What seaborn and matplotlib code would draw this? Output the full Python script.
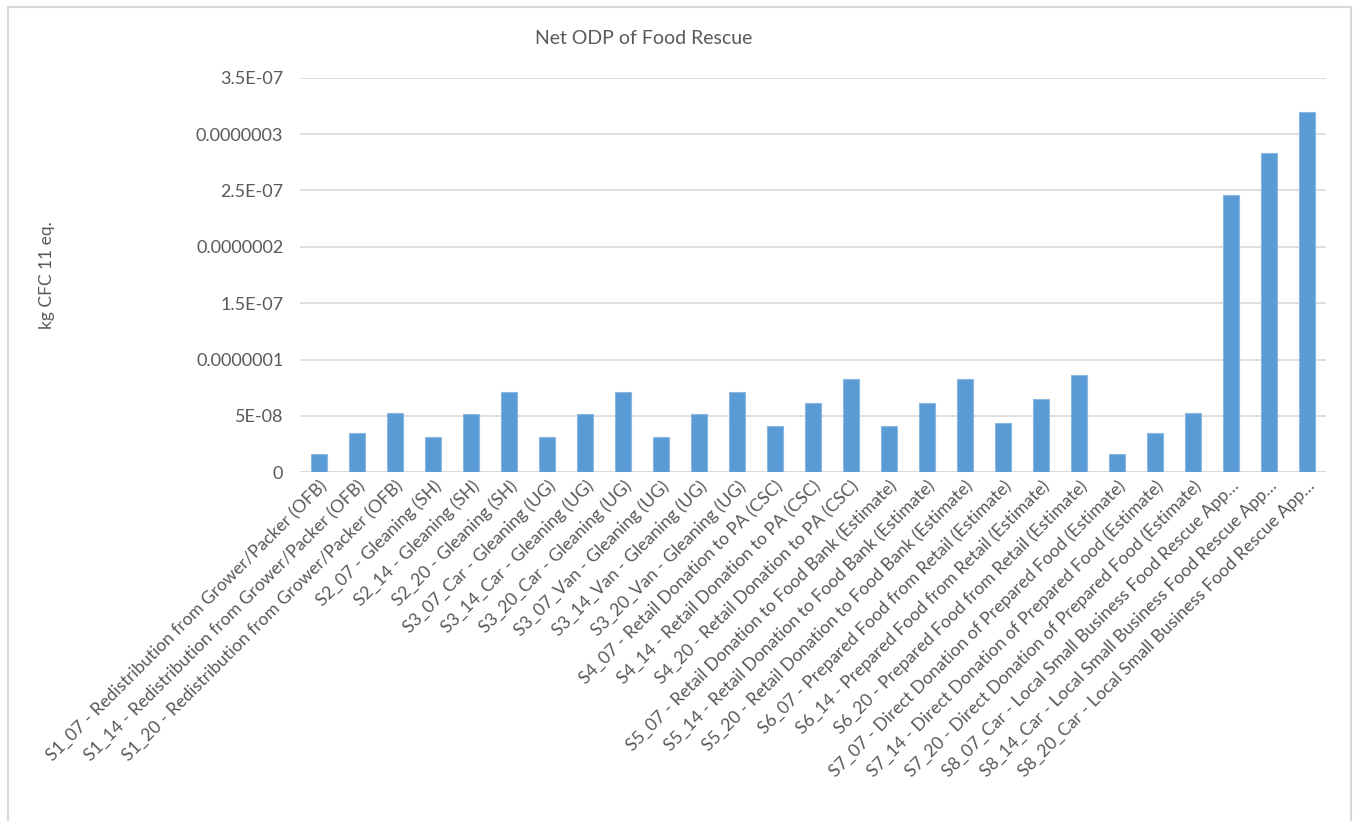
import matplotlib
matplotlib.use("Agg")
import matplotlib.pyplot as plt
from matplotlib.lines import Line2D
from matplotlib.ticker import FixedLocator, FixedFormatter
import seaborn as sns
import pandas as pd

# Food rescue scenarios and their net ozone depletion potential (kg CFC-11 eq.)
scenarios = [
    "S1_07 - Redistribution from Grower/Packer (OFB)",
    "S1_14 - Redistribution from Grower/Packer (OFB)",
    "S1_20 - Redistribution from Grower/Packer (OFB)",
    "S2_07 - Gleaning (SH)",
    "S2_14 - Gleaning (SH)",
    "S2_20 - Gleaning (SH)",
    "S3_07_Car - Gleaning (UG)",
    "S3_14_Car - Gleaning (UG)",
    "S3_20_Car - Gleaning (UG)",
    "S3_07_Van - Gleaning (UG)",
    "S3_14_Van - Gleaning (UG)",
    "S3_20_Van - Gleaning (UG)",
    "S4_07 - Retail Donation to PA (CSC)",
    "S4_14 - Retail Donation to PA (CSC)",
    "S4_20 - Retail Donation to PA (CSC)",
    "S5_07 - Retail Donation to Food Bank (Estimate)",
    "S5_14 - Retail Donation to Food Bank (Estimate)",
    "S5_20 - Retail Donation to Food Bank (Estimate)",
    "S6_07 - Prepared Food from Retail (Estimate)",
    "S6_14 - Prepared Food from Retail (Estimate)",
    "S6_20 - Prepared Food from Retail (Estimate)",
    "S7_07 - Direct Donation of Prepared Food (Estimate)",
    "S7_14 - Direct Donation of Prepared Food (Estimate)",
    "S7_20 - Direct Donation of Prepared Food (Estimate)",
    "S8_07_Car - Local Small Business Food Rescue App\u2026",
    "S8_14_Car - Local Small Business Food Rescue App\u2026",
    "S8_20_Car - Local Small Business Food Rescue App\u2026",
]

net_odp = [
    1.6e-8, 3.46e-8, 5.3e-8,
    3.15e-8, 5.15e-8, 7.15e-8,
    3.15e-8, 5.15e-8, 7.15e-8,
    3.15e-8, 5.15e-8, 7.15e-8,
    4.08e-8, 6.18e-8, 8.26e-8,
    4.08e-8, 6.18e-8, 8.26e-8,
    4.4e-8, 6.48e-8, 8.6e-8,
    1.6e-8, 3.46e-8, 5.3e-8,
    2.456e-7, 2.833e-7, 3.2e-7,
]

y_ticks = [0, 5e-8, 1e-7, 1.5e-7, 2e-7, 2.5e-7, 3e-7, 3.5e-7]
y_tick_labels = ["0", "5E-08", "0.0000001", "1.5E-07", "0.0000002",
                 "2.5E-07", "0.0000003", "3.5E-07"]

title = "Net ODP of Food Rescue"
y_label = "kg CFC 11 eq."

sns.set_theme(style="white")
plt.rcParams["font.family"] = ["Lato", "DejaVu Sans"]

text_grey = "#595959"
grid_grey = "#d9d9d9"
bar_blue = "#5b9bd5"

W, H = 1353, 821
fig = plt.figure(figsize=(W / 100, H / 100), dpi=100)
ax = fig.add_axes([300 / W, 1 - 472.3 / H, 1026 / W, (472.3 - 77.7) / H])

df = pd.DataFrame({"scenario": scenarios, "odp": net_odp})
sns.barplot(data=df, x="scenario", y="odp", color=bar_blue, width=0.4,
            edgecolor="#8ab8e3", linewidth=0.8, saturation=1, ax=ax)

ax.set_ylim(0, 3.5e-7)
ax.set_xlim(-0.5, len(scenarios) - 0.5)
ax.yaxis.set_major_locator(FixedLocator(y_ticks))
ax.yaxis.set_major_formatter(FixedFormatter(y_tick_labels))
ax.grid(axis="y", color=grid_grey, linewidth=1.2)
ax.set_axisbelow(True)
for side in ["top", "right", "left", "bottom"]:
    ax.spines[side].set_visible(False)
ax.axhline(0, color=grid_grey, linewidth=1.2, zorder=0.5)

ax.tick_params(axis="y", length=0, pad=12, labelsize=13, labelcolor=text_grey)
ax.tick_params(axis="x", length=0, pad=4, labelsize=12.7, labelcolor=text_grey)
ax.set_xticks(range(len(scenarios)))
ax.set_xticklabels(scenarios, rotation=45, ha="right", rotation_mode="anchor")

ax.set_xlabel("")
ax.set_ylabel(y_label, fontsize=12.5, color=text_grey)
ax.yaxis.set_label_coords(55 / W, 1 - 275 / H, transform=fig.transFigure)

fig.text(644 / W, 1 - 38 / H, title, ha="center", va="center",
         fontsize=14, color=text_grey)

# Chart frame
fig.add_artist(Line2D([8 / W, 8 / W, 1351 / W, 1351 / W], [0, 1 - 7 / H, 1 - 7 / H, 0],
                      transform=fig.transFigure, color="#d9d9d9", linewidth=1.5))

fig.savefig("out.png", dpi=100, facecolor="white")
